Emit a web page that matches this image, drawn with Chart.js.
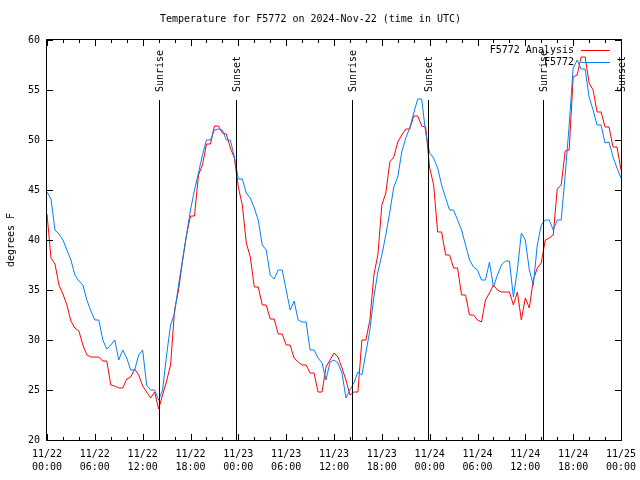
<!DOCTYPE html>
<html>
<head>
<meta charset="utf-8">
<script src="https://cdn.jsdelivr.net/npm/chart.js@4/dist/chart.umd.min.js"></script>
<style>
  html, body { margin: 0; padding: 0; background: #fff; }
  canvas { display: block; }
</style>
</head>
<body>
<canvas id="chart" width="640" height="480"></canvas>
<script>
// hours since 11/22 00:00 UTC
const hours = [
  0, 0.5, 1, 1.5, 2, 2.5, 3, 3.5, 4, 4.5, 5, 5.5,
  6, 6.5, 7, 7.5, 8, 8.5, 9, 9.5, 10, 10.5, 11, 11.5,
  12, 12.5, 13, 13.5, 14, 14.5, 15, 15.5, 16, 16.5, 17, 17.5,
  18, 18.5, 19, 19.5, 20, 20.5, 21, 21.5, 22, 22.5, 23, 23.5,
  24, 24.5, 25, 25.5, 26, 26.5, 27, 27.5, 28, 28.5, 29, 29.5,
  30, 30.5, 31, 31.5, 32, 32.5, 33, 33.5, 34, 34.5, 35, 35.5,
  36, 36.5, 37, 37.5, 38, 38.5, 39, 39.5, 40, 40.5, 41, 41.5,
  42, 42.5, 43, 43.5, 44, 44.5, 45, 45.5, 46, 46.5, 47, 47.5,
  48, 48.5, 49, 49.5, 50, 50.5, 51, 51.5, 52, 52.5, 53, 53.5,
  54, 54.5, 55, 55.5, 56, 56.5, 57, 57.5, 58, 58.5, 59, 59.5,
  60, 60.5, 61, 61.5, 62, 62.5, 63, 63.5, 64, 64.5, 65, 65.5,
  66, 66.5, 67, 67.5, 68, 68.5, 69, 69.5, 70, 70.5, 71, 71.5,
  72
];

// F5772 Analysis (degrees F)
const analysis = [
  42.6, 38.2, 37.6, 35.5, 34.6, 33.5, 31.9, 31.2, 30.9, 29.5, 28.5, 28.3,
  28.3, 28.3, 27.9, 27.9, 25.5, 25.4, 25.2, 25.2, 26.1, 26.3, 27.1, 26.5,
  25.4, 24.8, 24.2, 24.8, 23.1, 24.5, 25.9, 27.5, 33.0, 35.0, 37.9, 40.5,
  42.4, 42.4, 46.5, 47.5, 49.6, 49.6, 51.4, 51.4, 50.7, 50.6, 49.2, 48.2,
  45.3, 43.5, 39.7, 38.3, 35.3, 35.3, 33.5, 33.5, 32.1, 32.1, 30.6, 30.6,
  29.5, 29.5, 28.2, 27.8, 27.5, 27.5, 26.7, 26.7, 24.8, 24.8, 27.3, 28.0,
  28.7, 28.3, 27.2, 26.0, 24.5, 24.8, 24.8, 30.0, 30.0, 32.0, 36.5, 38.5,
  43.5, 44.7, 47.8, 48.3, 49.8, 50.5, 51.1, 51.1, 52.4, 52.4, 51.4, 51.3,
  47.2, 45.5, 40.8, 40.8, 38.5, 38.5, 37.2, 37.2, 34.5, 34.5, 32.5, 32.5,
  32.0, 31.8, 34.0, 34.7, 35.5, 35.0, 34.8, 34.8, 34.8, 33.5, 34.8, 32.0,
  34.2, 33.2, 36.0, 37.2, 37.7, 40.0, 40.2, 40.5, 45.1, 45.5, 48.9, 49.0,
  56.3, 56.5, 58.3, 58.3, 55.7, 55.0, 52.8, 52.8, 51.3, 51.3, 49.3, 49.3,
  47.0
];

// F5772 observed (degrees F)
const observed = [
  44.8, 44.1, 41.0, 40.6, 40.0, 39.0, 38.0, 36.5, 35.9, 35.5, 34.0, 32.9,
  32.0, 32.0, 30.0, 29.1, 29.5, 30.0, 28.0, 29.0, 28.2, 27.0, 27.0, 28.5,
  29.0, 25.5, 25.0, 25.0, 24.0, 25.0, 28.5, 31.5, 32.7, 35.5, 38.0, 40.5,
  43.0, 45.0, 46.7, 48.5, 50.0, 50.0, 51.0, 51.1, 51.0, 50.0, 50.0, 48.3,
  46.1, 46.1, 44.7, 44.2, 43.2, 42.0, 39.5, 39.0, 36.5, 36.1, 37.0, 37.0,
  35.0, 33.0, 33.9, 32.0, 31.8, 31.8, 29.0, 29.0, 28.2, 27.7, 26.0, 27.8,
  28.0, 27.7, 26.7, 24.2, 25.0, 25.7, 26.8, 26.5, 28.7, 31.0, 34.3, 36.8,
  38.5, 40.5, 42.8, 45.3, 46.3, 48.8, 50.2, 51.2, 52.7, 54.1, 54.1, 50.7,
  48.7, 48.2, 47.2, 45.5, 44.2, 43.0, 43.0, 42.0, 41.0, 39.5, 38.0, 37.3,
  37.0, 36.0, 36.0, 37.8, 35.3, 36.5, 37.5, 37.9, 37.9, 34.3, 37.0, 40.7,
  40.0, 37.0, 35.5, 39.5, 41.5, 42.0, 42.0, 41.0, 42.0, 42.0, 46.5, 51.5,
  57.2, 58.0, 57.1, 57.1, 54.3, 53.0, 51.5, 51.5, 49.7, 49.8, 48.3, 47.2,
  46.2
];

const tickHours = [0, 6, 12, 18, 24, 30, 36, 42, 48, 54, 60, 66, 72];
const tickDates = ['11/22', '11/22', '11/22', '11/22', '11/23', '11/23', '11/23',
  '11/23', '11/24', '11/24', '11/24', '11/24', '11/25'];
const tickTimes = ['00:00', '06:00', '12:00', '18:00', '00:00', '06:00', '12:00',
  '18:00', '00:00', '06:00', '12:00', '18:00', '00:00'];

const sunriseHours = [14.09, 38.2, 62.26];
const sunsetHours = [23.77, 47.85, 71.95];
const sunLineTop = 54;

const FONT = 'DejaVu Sans Mono';

const toPoints = (vals) => hours.map((h, i) => ({ x: h, y: vals[i] }));

// gnuplot style frame, inward ticks, sun markers and legend
const gnuplotPlugin = {
  id: 'gnuplot',
  afterDatasetsDraw(chart) {
    const ctx = chart.ctx;
    const { left, right, top, bottom } = chart.chartArea;
    const xs = chart.scales.x;
    const ys = chart.scales.y;
    ctx.save();
    ctx.strokeStyle = '#000';
    ctx.lineWidth = 1;

    // sunrise / sunset lines
    const marks = sunriseHours.map(h => [h, 'Sunrise'])
      .concat(sunsetHours.map(h => [h, 'Sunset']));
    ctx.font = '10px "' + FONT + '"';
    ctx.fillStyle = '#000';
    marks.forEach(([h, label]) => {
      const px = Math.round(xs.getPixelForValue(h)) + 0.5;
      const py = ys.getPixelForValue(sunLineTop);
      ctx.beginPath();
      ctx.moveTo(px, bottom);
      ctx.lineTo(px, py);
      ctx.stroke();
      ctx.save();
      ctx.translate(px + 1, py - 8);
      ctx.rotate(-Math.PI / 2);
      ctx.textAlign = 'left';
      ctx.textBaseline = 'middle';
      ctx.fillText(label, 0, 0);
      ctx.restore();
    });

    // frame
    ctx.strokeRect(left - 0.5, top - 0.5, right - left + 1, bottom - top + 1);

    // x ticks every 2 hours, major every 6
    for (let h = xs.min; h <= xs.max; h += 2) {
      const px = Math.round(xs.getPixelForValue(h)) + 0.5;
      const len = h % 6 === 0 ? 6 : 3;
      ctx.beginPath();
      ctx.moveTo(px, bottom);
      ctx.lineTo(px, bottom - len);
      ctx.moveTo(px, top);
      ctx.lineTo(px, top + len);
      ctx.stroke();
    }
    // y ticks
    ys.ticks.forEach(t => {
      const py = Math.round(ys.getPixelForValue(t.value)) + 0.5;
      ctx.beginPath();
      ctx.moveTo(left, py);
      ctx.lineTo(left + 6, py);
      ctx.moveTo(right, py);
      ctx.lineTo(right - 6, py);
      ctx.stroke();
    });

    // legend, top right inside the plot
    ctx.textAlign = 'right';
    ctx.textBaseline = 'middle';
    chart.data.datasets.forEach((ds, i) => {
      const ly = top + 10.5 + i * 12;
      ctx.fillStyle = '#000';
      ctx.fillText(ds.label, right - 47, ly);
      ctx.strokeStyle = ds.borderColor;
      ctx.beginPath();
      ctx.moveTo(right - 40, ly);
      ctx.lineTo(right - 11, ly);
      ctx.stroke();
    });
    ctx.restore();
  }
};

new Chart(document.getElementById('chart'), {
  type: 'line',
  data: {
    datasets: [
      {
        label: 'F5772 Analysis',
        data: toPoints(analysis),
        borderColor: '#ff0000',
        borderWidth: 1,
        pointRadius: 0,
        tension: 0,
        order: 2
      },
      {
        label: 'F5772',
        data: toPoints(observed),
        borderColor: '#0080ff',
        borderWidth: 1,
        pointRadius: 0,
        tension: 0,
        order: 1
      }
    ]
  },
  options: {
    responsive: false,
    animation: false,
    devicePixelRatio: 1,
    layout: { padding: { right: 19 } },
    plugins: {
      legend: { display: false },
      tooltip: { enabled: false },
      title: {
        display: true,
        text: 'Temperature for F5772 on 2024-Nov-22 (time in UTC)',
        color: '#000',
        font: { family: FONT, size: 10, weight: 'normal' },
        padding: { top: 13, bottom: 15 }
      }
    },
    scales: {
      x: {
        type: 'linear',
        min: 0,
        max: 72,
        grid: { display: false, drawTicks: false },
        border: { display: false },
        afterFit: (s) => {
          s.height = 40;
          s.paddingLeft = 0;
          s.paddingRight = 0;
        },
        afterBuildTicks: (s) => { s.ticks = tickHours.map(v => ({ value: v })); },
        ticks: {
          color: '#000',
          padding: 8,
          maxRotation: 0,
          autoSkip: false,
          font: { family: FONT, size: 10, lineHeight: 1.3 },
          callback: (v) => {
            const i = tickHours.indexOf(v);
            return i < 0 ? '' : [tickDates[i], tickTimes[i]];
          }
        }
      },
      y: {
        min: 20,
        max: 60,
        grid: { display: false, drawTicks: false },
        border: { display: false },
        afterFit: (s) => { s.width = 47; },
        ticks: {
          stepSize: 5,
          color: '#000',
          padding: 7,
          font: { family: FONT, size: 10 }
        },
        title: {
          display: true,
          text: 'degrees F',
          color: '#000',
          padding: { top: 5, bottom: 0 },
          font: { family: FONT, size: 10 }
        }
      }
    }
  },
  plugins: [gnuplotPlugin]
});
</script>
</body>
</html>
